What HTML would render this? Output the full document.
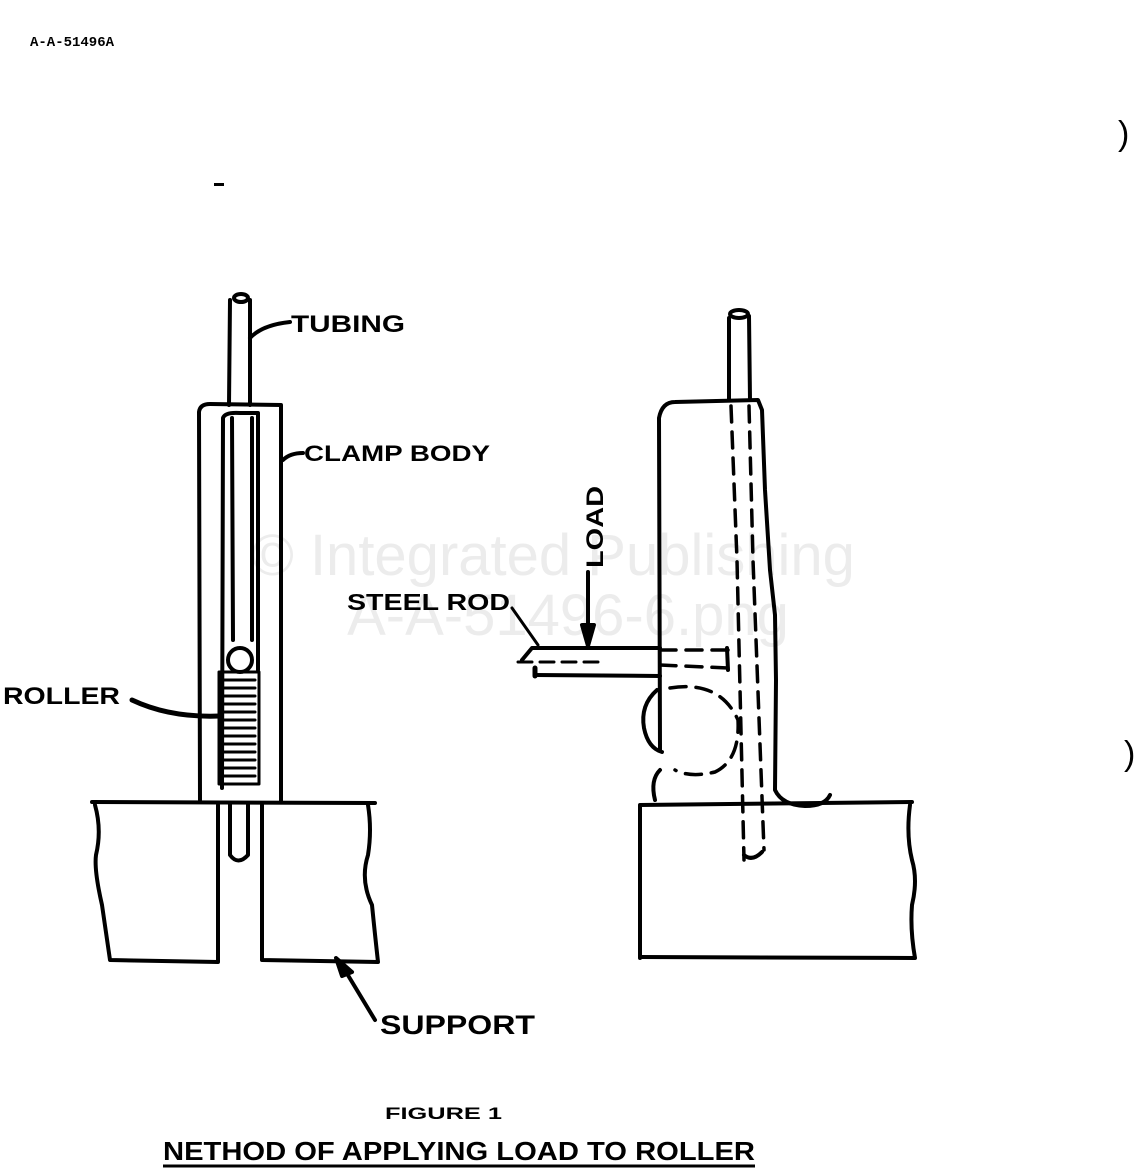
<!DOCTYPE html>
<html><head><meta charset="utf-8"><style>
html,body{margin:0;padding:0;background:#fff;}
body{width:1137px;height:1173px;overflow:hidden;}
svg{display:block}
.t{font-family:"Liberation Sans",sans-serif;font-weight:bold;fill:#000}
</style></head><body>
<svg width="1137" height="1173" viewBox="0 0 1137 1173" xmlns="http://www.w3.org/2000/svg">
<rect width="1137" height="1173" fill="#fff"/>
<text x="553" y="575" font-family="Liberation Sans,sans-serif" font-size="58" fill="#ececec" text-anchor="middle">© Integrated Publishing</text>
<text x="568" y="635" font-family="Liberation Sans,sans-serif" font-size="58" fill="#ececec" text-anchor="middle">A-A-51496-6.png</text>

<text x="30" y="46" font-family="Liberation Mono,monospace" font-weight="bold" font-size="14" fill="#000">A-A-51496A</text>
<rect x="214" y="183" width="10" height="3" fill="#000"/>
<text x="1118" y="145" font-family="Liberation Sans,sans-serif" font-size="34" fill="#000">)</text>
<text x="1124" y="765" font-family="Liberation Sans,sans-serif" font-size="34" fill="#000">)</text>

<g fill="none" stroke="#000" stroke-width="4" stroke-linecap="round" stroke-linejoin="round">
<path d="M230 300 L229 405 M250 300 L250 405"/>
<ellipse cx="241" cy="298" rx="7" ry="4"/>
<path d="M200 800 L199 412 Q200 404 210 404 L281 405 L281 802"/>
<path d="M222 788 L223 418 Q225 412 240 413 L258 413 L258 670"/>
<path d="M232 418 L233 640 M252 418 L252 640"/>
<circle cx="240" cy="660" r="12"/>
<rect x="219" y="672" width="40" height="112" stroke-width="3"/>
<g stroke-width="3"><path d="M223 680 H255 M223 688 H255 M223 696 H255 M223 704 H255 M223 712 H255 M223 720 H255 M223 728 H255 M223 736 H255 M223 744 H255 M223 752 H255 M223 760 H255 M223 768 H255 M223 776 H255"/></g>
<path d="M230 803 L230 855 Q238 866 248 855 L248 803"/>
<path d="M92 802 L375 803"/>
<path d="M95 805 Q102 830 96 855 Q94 870 102 905 L110 960 L218 962 L218 805"/>
<path d="M262 805 L262 960 L378 962 Q375 935 372 905 Q360 880 368 855 Q372 830 368 805"/>
<path d="M340 962 L375 1020"/>
<path d="M336 958 L352 972 L342 976 Z" fill="#000"/>
<path d="M132 700 Q170 718 220 716" stroke-width="5"/>
<path d="M250 338 Q262 325 290 322" stroke-width="4"/>
<path d="M283 460 Q290 453 303 453" stroke-width="4"/>

<path d="M729 318 L729 400 M749 316 L750 400"/>
<ellipse cx="739" cy="314" rx="9" ry="4"/>
<path d="M660 750 L659 418 Q662 402 675 402 L758 400 L762 410 L765 490 L770 570 L775 615 L776 680 L775 790 Q782 805 805 806 Q825 806 830 795"/>
<g stroke-dasharray="16 10" stroke-width="3.5">
<path d="M731 406 L737 560 L744 860"/>
<path d="M749 406 L753 560 L764 850"/>
<path d="M660 650 L728 650"/>
<path d="M660 665 L728 668"/>
<path d="M670 688 Q720 680 738 720 Q740 760 715 772 Q690 778 675 770"/>
</g>
<path d="M727 648 L728 670"/>
<path d="M657 690 Q640 705 644 728 Q648 748 662 752"/>
<path d="M660 770 Q650 780 655 800"/>
<path d="M522 660 L532 648 L660 648"/>
<path d="M535 675 L660 676"/>
<path d="M535 668 L535 676" stroke-width="5"/>
<path d="M518 662 L600 662" stroke-dasharray="14 8" stroke-width="3"/>
<path d="M588 572 L588 630" stroke-width="4"/>
<path d="M582 625 L594 625 L588 646 Z" fill="#000"/>
<path d="M512 608 L538 645" stroke-width="3"/>
<path d="M640 958 L640 805 L912 802"/>
<path d="M640 957 L915 958 Q910 930 912 905 Q918 880 912 860 Q906 835 910 805"/>
<path d="M744 855 Q752 862 762 852"/>
</g>

<text class="t" x="291" y="332" font-size="24" textLength="114" lengthAdjust="spacingAndGlyphs">TUBING</text>
<text class="t" x="304" y="461" font-size="22" textLength="186" lengthAdjust="spacingAndGlyphs">CLAMP BODY</text>
<text class="t" x="3" y="704" font-size="24" textLength="117" lengthAdjust="spacingAndGlyphs">ROLLER</text>
<text class="t" x="347" y="610" font-size="23" textLength="163" lengthAdjust="spacingAndGlyphs">STEEL ROD</text>
<text class="t" font-size="24" transform="translate(603 568) rotate(-90)" textLength="82" lengthAdjust="spacingAndGlyphs">LOAD</text>
<text class="t" x="380" y="1034" font-size="27" textLength="155" lengthAdjust="spacingAndGlyphs">SUPPORT</text>
<text class="t" x="385" y="1119" font-size="17" textLength="117" lengthAdjust="spacingAndGlyphs">FIGURE 1</text>
<text class="t" x="163" y="1160" font-size="26" textLength="592" lengthAdjust="spacingAndGlyphs">NETHOD OF APPLYING LOAD TO ROLLER</text>
<path d="M163 1166 L755 1166" stroke="#000" stroke-width="3"/>
</svg>
</body></html>
